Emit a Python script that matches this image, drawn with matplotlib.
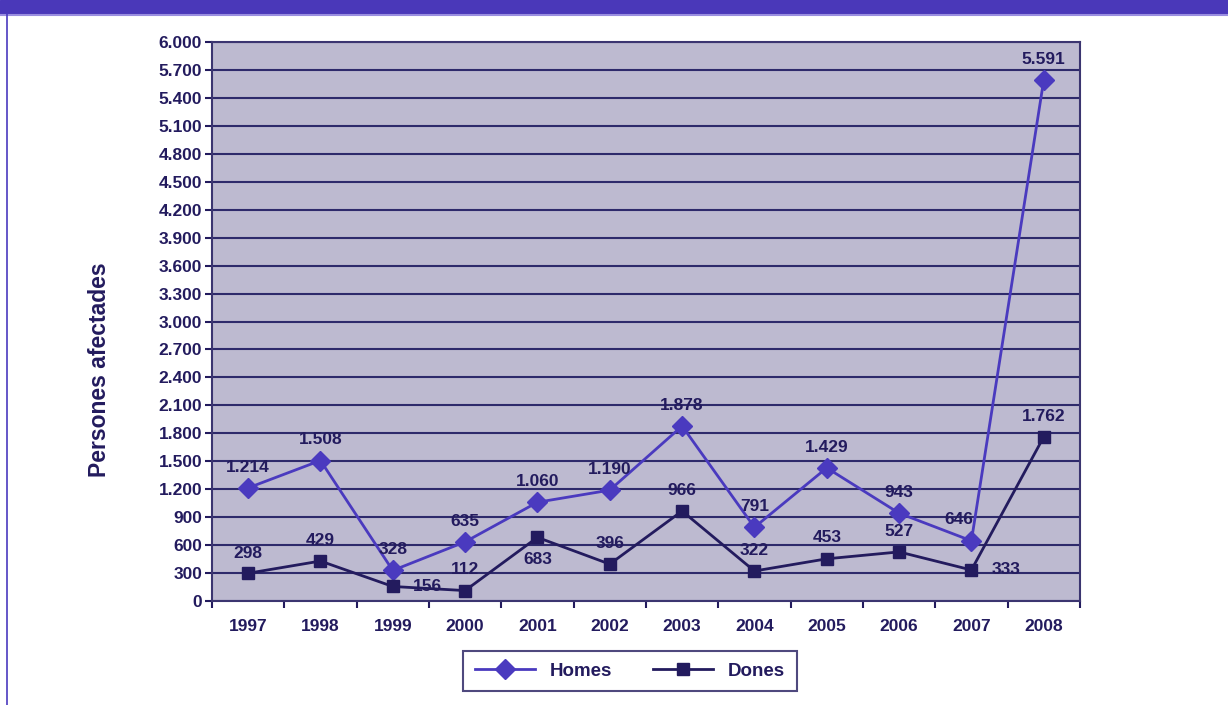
import matplotlib.pyplot as plt
from matplotlib.lines import Line2D
from matplotlib.patches import Rectangle

# Dades
anys = ['1997', '1998', '1999', '2000', '2001', '2002', '2003', '2004',
        '2005', '2006', '2007', '2008']
homes = [1214, 1508, 328, 635, 1060, 1190, 1878, 791, 1429, 943, 646, 5591]
dones = [298, 429, 156, 112, 683, 396, 966, 322, 453, 527, 333, 1762]
yticks = list(range(0, 6001, 300))

# posicio de l'etiqueta de cada punt (dx, dy en punts)
pos_homes = [(0, 15)] * 10 + [(-9, 15), (0, 15)]
pos_dones = [(0, 14), (0, 15), (25, 0), (0, 15), (0, -16), (0, 15), (0, 15),
             (0, 15), (0, 15), (0, 15), (25, 0), (0, 15)]

c_homes = '#4A3ABF'
c_dones = '#231B5E'
c_text = '#231B5E'
c_fons = '#BDBAD0'

plt.rcParams['font.family'] = ['Liberation Sans', 'DejaVu Sans']
plt.rcParams['font.weight'] = 'bold'


def fmt(v):
    return f'{v:,}'.replace(',', '.')


fig = plt.figure(figsize=(12.28, 7.05), dpi=100)
ax = fig.add_axes([0.1726, 0.1475, 0.7068, 0.7929])
ax.set_facecolor(c_fons)

x = list(range(len(anys)))
ax.plot(x, homes, color=c_homes, lw=2, marker='D', ms=10, label='Homes', zorder=3)
ax.plot(x, dones, color=c_dones, lw=2, marker='s', ms=9, label='Dones', zorder=3)

for i in x:
    ax.annotate(fmt(homes[i]), (i, homes[i]), xytext=pos_homes[i],
                textcoords='offset points', ha='center', va='center',
                fontsize=12.5, fontweight='bold', color=c_text)
    ax.annotate(fmt(dones[i]), (i, dones[i]), xytext=pos_dones[i],
                textcoords='offset points', ha='center', va='center',
                fontsize=12.5, fontweight='bold', color=c_text)

ax.set_xlim(-0.5, len(anys) - 0.5)
ax.set_ylim(0, 6000)
ax.set_yticks(yticks)
ax.set_yticklabels([fmt(v) for v in yticks], fontsize=12.5, color=c_text)
ax.set_xticks(x)
ax.set_xticklabels(anys, fontsize=12.5, color=c_text)
ax.set_xticks([i - 0.5 for i in range(len(anys) + 1)], minor=True)
ax.tick_params(axis='x', which='major', length=0, pad=13)
ax.tick_params(axis='x', which='minor', length=5, color=c_dones, width=1.5)
ax.tick_params(axis='y', length=5, color=c_dones, width=1.5, pad=2)
ax.yaxis.grid(True, color='#2E2A6B', lw=1.5)
ax.set_axisbelow(True)
for s in ax.spines.values():
    s.set_color('#3B3570')
    s.set_linewidth(1.5)

ax.set_ylabel('Persones afectades', fontsize=16.5, fontweight='bold',
              color=c_text, va='center')
ax.yaxis.set_label_coords(-0.129, 0.413)

leg = fig.legend(handles=[
    Line2D([], [], color=c_homes, lw=2, marker='D', ms=10),
    Line2D([], [], color=c_dones, lw=2, marker='s', ms=9)],
    labels=['Homes', 'Dones'], loc='center', bbox_to_anchor=(0.513, 0.048),
    ncol=2, frameon=True, fancybox=False, fontsize=13.5, handlelength=3.2,
    columnspacing=2.2, borderpad=0.6, labelcolor=c_text)
leg.get_frame().set_edgecolor(c_dones)
leg.get_frame().set_linewidth(1.5)

# banda del titol i marc esquerre
fig.patches.append(Rectangle((0, 1 - 14 / 705), 1, 14 / 705,
                             transform=fig.transFigure, color='#4A38B9'))
fig.add_artist(Line2D([0, 1], [1 - 14.5 / 705] * 2, color='#9A8EE0', lw=1.5,
                      transform=fig.transFigure))
fig.add_artist(Line2D([7 / 1228] * 2, [0, 1 - 14 / 705], color='#4A3ABF',
                      lw=1.2, transform=fig.transFigure))

fig.savefig('out.png', dpi=100)
